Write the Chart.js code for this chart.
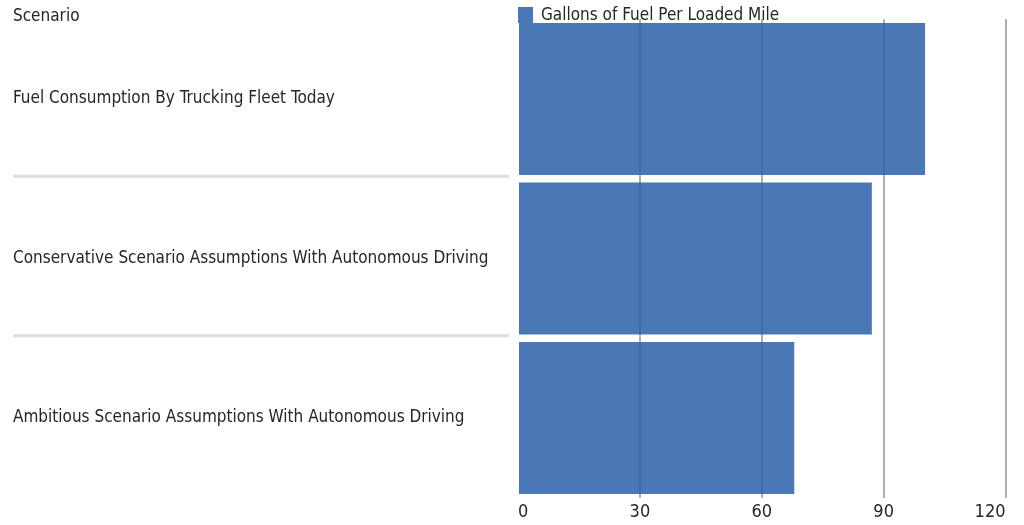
<!DOCTYPE html>
<html>
<head>
<meta charset="utf-8">
<script src="https://cdn.jsdelivr.net/npm/chart.js@4"></script>
<style>
  html, body { margin: 0; padding: 0; background: #fff; }
  #wrap { width: 1024px; height: 525px; position: relative; }
</style>
</head>
<body>
<div id="wrap"><canvas id="fuelChart"></canvas></div>
<script>
// Fuel use per loaded mile, one bar per scenario
const scenarios = [
  'Fuel Consumption By Trucking Fleet Today',
  'Conservative Scenario Assumptions With Autonomous Driving',
  'Ambitious Scenario Assumptions With Autonomous Driving'
];
const gallonsPerMile = [100.2, 87.1, 68.0];
const axisTicks = [0, 30, 60, 90, 120];
const seriesLabel = 'Gallons of Fuel Per Loaded Mile';
const headerLabel = 'Scenario';

const FONT_FAMILY = "'DejaVu Sans Condensed', 'Liberation Sans Narrow', sans-serif";
const TEXT_COLOR = '#262626';
const BAR_COLOR = 'rgba(42, 96, 169, 0.85)';
const SWATCH_COLOR = '#4a78b6';

// header text, legend swatch and the rules between category rows
const decorations = {
  id: 'decorations',
  afterDraw(chart) {
    const ctx = chart.ctx;
    const area = chart.chartArea;
    const yScale = chart.scales.y;
    ctx.save();

    ctx.strokeStyle = '#dddddd';
    ctx.lineWidth = 3;
    for (let i = 1; i < scenarios.length; i++) {
      const y = (yScale.getPixelForTick(i - 1) + yScale.getPixelForTick(i)) / 2 - 2.5;
      ctx.beginPath();
      ctx.moveTo(13, y);
      ctx.lineTo(area.left - 9, y);
      ctx.stroke();
    }

    ctx.font = '17px ' + FONT_FAMILY;
    ctx.textAlign = 'left';
    ctx.textBaseline = 'middle';
    ctx.fillStyle = TEXT_COLOR;
    ctx.fillText(headerLabel, 13, 16.5);

    ctx.fillStyle = SWATCH_COLOR;
    ctx.fillRect(area.left, 7, 15, 16);
    ctx.fillStyle = TEXT_COLOR;
    ctx.fillText(seriesLabel, area.left + 23, 15.5);
    ctx.restore();
  }
};

new Chart(document.getElementById('fuelChart'), {
  type: 'bar',
  data: {
    labels: scenarios,
    datasets: [{
      label: seriesLabel,
      data: gallonsPerMile,
      backgroundColor: BAR_COLOR,
      borderWidth: 0,
      categoryPercentage: 0.953,
      barPercentage: 1
    }]
  },
  options: {
    indexAxis: 'y',
    responsive: true,
    maintainAspectRatio: false,
    animation: false,
    layout: {
      padding: { left: 13, top: 19.25, right: 18.5, bottom: -1.35 }
    },
    scales: {
      x: {
        min: axisTicks[0],
        max: axisTicks[axisTicks.length - 1],
        afterBuildTicks(scale) {
          scale.ticks = axisTicks.map(v => ({ value: v }));
        },
        grid: {
          color: ctx => ctx.index === 0 ? 'rgba(0,0,0,0)' : 'rgba(95, 95, 95, 0.5)',
          lineWidth: 2,
          drawTicks: false
        },
        border: { display: false },
        ticks: {
          align: 'inner',
          padding: 3.5,
          color: TEXT_COLOR,
          font: { family: FONT_FAMILY, size: 18 }
        }
      },
      y: {
        grid: { display: false, drawTicks: false },
        border: { display: false },
        ticks: {
          crossAlign: 'far',
          padding: 0,
          color: TEXT_COLOR,
          font: { family: FONT_FAMILY, size: 17 }
        },
        afterFit(scale) {
          scale.width = 505;
        }
      }
    },
    plugins: {
      legend: { display: false },
      tooltip: { enabled: false }
    }
  },
  plugins: [decorations]
});
</script>
</body>
</html>
